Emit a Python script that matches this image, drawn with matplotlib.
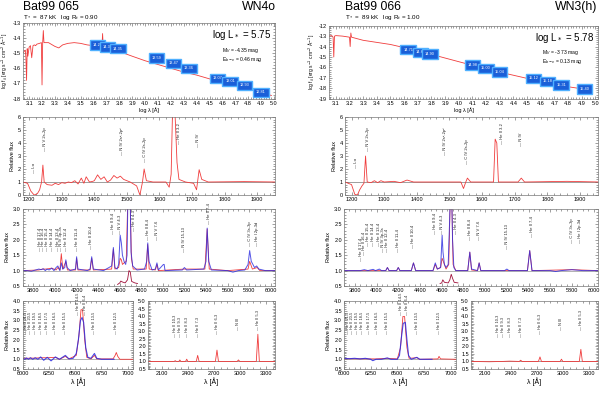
import numpy as np
import matplotlib.pyplot as plt

# ---------------------------------------- data ----------------------------------------

stars = ["Bat99 065", "Bat99 066"]
sptypes = ["WN4o", "WN3(h)"]
params = ["T$_*$ =  87 kK   log R$_t$ = 0.90", "T$_*$ =  89 kK   log R$_t$ = 1.00"]
lum_text = ["log L$_*$ = 5.75", "log L$_*$ = 5.78"]
mv_text = ["M$_V$ = -4.35 mag", "M$_V$ = -3.73 mag"]
ebv_text = ["E$_{b-v}$ = 0.46 mag", "E$_{b-v}$ = 0.13 mag"]

# SED model (log lambda, log f)
sed1_model = [(3.05, -15.0), (3.06, -14.9), (3.07, -14.8), (3.075, -15.3), (3.08, -16.8), (3.085, -14.7),
              (3.09, -15.2), (3.10, -14.6), (3.11, -14.5), (3.12, -15.3), (3.13, -14.5), (3.14, -14.45),
              (3.15, -14.5), (3.16, -14.4), (3.18, -14.35), (3.195, -14.3), (3.2, -17.1), (3.205, -14.3),
              (3.21, -13.5), (3.215, -14.3), (3.25, -14.3), (3.3, -14.55), (3.33, -14.65), (3.36, -14.45),
              (3.4, -14.35), (3.45, -14.3), (3.5, -14.35), (3.55, -14.45), (3.6, -14.5), (3.65, -14.55),
              (3.665, -14.6), (3.67, -13.7), (3.675, -14.6), (3.7, -14.65), (3.74, -14.72), (3.745, -14.35),
              (3.75, -14.75), (3.8, -14.9), (3.805, -14.5), (3.81, -14.92), (3.9, -15.2), (4.0, -15.5),
              (4.1, -15.75), (4.2, -16.0), (4.3, -16.25), (4.4, -16.45), (4.5, -16.7), (4.6, -16.9),
              (4.7, -17.1), (4.8, -17.35), (4.9, -17.6), (4.98, -17.8)]
sed2_model = [(3.05, -13.0), (3.07, -12.95), (3.08, -13.1), (3.085, -15.0), (3.09, -13.0), (3.1, -12.95),
              (3.15, -13.0), (3.2, -13.1), (3.205, -14.0), (3.21, -12.7), (3.215, -13.1), (3.3, -13.4),
              (3.4, -13.6), (3.5, -13.8), (3.6, -14.1), (3.7, -14.4), (3.8, -14.75), (3.9, -15.1),
              (4.0, -15.45), (4.1, -15.8), (4.2, -16.15), (4.3, -16.45), (4.4, -16.75), (4.5, -17.05),
              (4.6, -17.35), (4.7, -17.6), (4.8, -17.85), (4.9, -18.05), (4.98, -18.2)]
sed2_obs = [(3.6, -14.2), (3.63, -14.25), (3.66, -14.3), (3.67, -13.9), (3.675, -14.35), (3.7, -14.45),
            (3.74, -14.55), (3.78, -14.65), (3.8, -14.7), (3.81, -14.45), (3.82, -14.75)]

# photometry boxes (log lambda, log f, label)
phot1 = [(3.63, -14.45, "14.23"), (3.71, -14.6, "14.37"), (3.79, -14.7, "14.35"), (4.09, -15.33, "13.59"),
         (4.22, -15.67, "13.47"), (4.34, -16.0, "13.36"), (4.56, -16.67, "13.07"), (4.66, -16.87, "13.01"),
         (4.77, -17.13, "12.93"), (4.9, -17.6, "12.81")]
phot2 = [(3.63, -14.3, "14.71"), (3.72, -14.55, "14.83"), (3.79, -14.7, "14.90"), (4.1, -15.75, "14.98"),
         (4.2, -16.1, "15.00"), (4.3, -16.45, "15.04"), (4.55, -17.05, "15.12"), (4.65, -17.35, "15.18"),
         (4.75, -17.7, "15.31"), (4.92, -18.05, "15.40")]

# UV normalized model (lambda, flux)
uv1_model = [(1180, 1.0), (1195, 0.9), (1205, 0.3), (1215, 0.0), (1225, 0.1), (1232, 0.4), (1238, 1.0),
             (1242, 2.3), (1246, 1.0), (1255, 0.8), (1270, 0.75), (1280, 0.9), (1290, 0.8), (1300, 0.95),
             (1310, 0.9), (1320, 1.0), (1330, 0.95), (1340, 1.1), (1350, 0.85), (1360, 1.3), (1368, 0.9),
             (1375, 1.4), (1385, 1.0), (1395, 1.05), (1400, 1.1), (1410, 1.55), (1420, 1.2), (1430, 1.4),
             (1440, 1.0), (1450, 1.15), (1460, 1.5), (1470, 1.3), (1480, 1.45), (1490, 1.2), (1510, 1.0),
             (1530, 0.7), (1540, 0.0), (1548, 1.0), (1553, 2.0), (1560, 1.1), (1580, 1.0), (1620, 1.0),
             (1630, 0.6), (1636, 1.6), (1640, 6.2), (1648, 6.2), (1654, 2.5), (1660, 1.2), (1680, 1.0),
             (1705, 0.9), (1714, 0.4), (1722, 1.95), (1730, 1.2), (1750, 1.0), (1860, 1.03), (1960, 1.0)]
uv2_model = [(1180, 1.0), (1200, 0.8), (1210, 0.05), (1218, 0.0), (1225, 0.4), (1232, 0.7), (1238, 0.9),
             (1243, 3.0), (1248, 1.0), (1260, 0.95), (1270, 1.1), (1280, 0.95), (1290, 1.1), (1300, 1.0),
             (1330, 1.05), (1350, 0.95), (1370, 1.15), (1390, 1.0), (1535, 1.0), (1543, 0.5), (1550, 1.0),
             (1555, 1.3), (1565, 1.0), (1635, 1.0), (1640, 4.3), (1645, 4.0), (1650, 1.0), (1710, 1.0),
             (1720, 1.3), (1730, 1.0), (1860, 1.05), (1960, 1.0)]

# optical normalized spectra (lambda, flux): observation and model
opt1_obs = [(3700, 1.0), (3740, 1.0), (3780, 0.98), (3820, 1.02), (3850, 1.05), (3870, 1.03), (3890, 1.06),
            (3910, 1.0), (3925, 1.05), (3945, 1.02), (3970, 1.08), (3990, 1.0), (4010, 1.1), (4026, 1.15),
            (4045, 1.0), (4058, 1.25), (4072, 1.05), (4090, 1.1), (4100, 1.35), (4112, 1.1), (4140, 1.0),
            (4190, 1.05), (4200, 1.45), (4212, 1.05), (4300, 1.0), (4325, 1.05), (4340, 1.45), (4355, 1.05),
            (4450, 1.0), (4525, 1.15), (4541, 1.75), (4555, 1.1), (4575, 1.05), (4590, 1.2), (4604, 2.15),
            (4615, 1.9), (4625, 1.5), (4640, 1.3), (4655, 1.2), (4668, 1.5), (4676, 3.5), (4696, 3.5),
            (4705, 1.6), (4720, 1.15), (4760, 1.02), (4830, 1.05), (4850, 1.3), (4860, 1.9), (4872, 1.3),
            (4900, 1.02), (4930, 1.05), (4945, 1.25), (4958, 1.02), (5005, 1.2), (5012, 1.2), (5020, 1.0),
            (5180, 1.02), (5200, 1.1), (5220, 1.02), (5380, 1.05), (5400, 1.3), (5411, 2.38), (5425, 1.3),
            (5450, 1.02), (5600, 1.0), (5650, 0.95), (5700, 1.0), (5760, 1.02), (5790, 1.2), (5805, 1.65),
            (5820, 1.3), (5850, 1.1), (5870, 1.15), (5890, 1.05), (5950, 1.0), (6040, 1.0)]
opt1_model = [(3700, 1.0), (3850, 1.02), (3887, 1.05), (3923, 1.05), (3968, 1.08), (4010, 1.02), (4026, 1.1),
              (4045, 1.02), (4058, 1.55), (4072, 1.05), (4100, 1.3), (4115, 1.02), (4190, 1.02), (4200, 1.4),
              (4212, 1.02), (4325, 1.02), (4340, 1.4), (4355, 1.02), (4525, 1.05), (4541, 1.7), (4555, 1.05),
              (4590, 1.1), (4604, 1.4), (4615, 1.35), (4625, 1.2), (4640, 1.25), (4660, 1.3), (4676, 3.5),
              (4696, 3.5), (4708, 1.4), (4725, 1.05), (4845, 1.05), (4859, 1.85), (4873, 1.05), (4930, 1.02),
              (4945, 1.2), (4958, 1.0), (5200, 1.05), (5390, 1.05), (5411, 2.35), (5430, 1.05), (5600, 1.0),
              (5790, 1.05), (5805, 1.3), (5830, 1.05), (5875, 1.1), (5900, 1.0), (6040, 1.0)]
opt1_inset = [(4580, 0.55), (4600, 0.6), (4610, 0.66), (4625, 0.63), (4650, 0.6), (4672, 0.7), (4686, 1.0),
              (4698, 0.95), (4710, 0.65), (4740, 0.6), (4765, 0.58)]
opt2_obs = [(3700, 1.0), (3800, 1.0), (3850, 1.0), (3887, 1.03), (3920, 1.0), (3968, 1.04), (3990, 1.0),
            (4026, 1.05), (4045, 1.0), (4085, 1.0), (4100, 1.1), (4115, 1.0), (4185, 1.0), (4200, 1.1),
            (4215, 1.0), (4320, 1.0), (4340, 1.25), (4360, 1.0), (4520, 1.0), (4541, 1.25), (4560, 1.05),
            (4590, 1.1), (4604, 2.15), (4612, 1.6), (4625, 1.2), (4640, 1.1), (4660, 1.2), (4672, 2.5),
            (4680, 3.5), (4692, 3.5), (4700, 2.0), (4712, 1.1), (4730, 1.0), (4840, 1.0), (4859, 1.6),
            (4875, 1.05), (4930, 1.0), (4945, 1.25), (4960, 1.0), (5180, 1.0), (5200, 1.05), (5220, 1.0),
            (5390, 1.0), (5411, 1.65), (5432, 1.0), (5600, 1.0), (5650, 0.97), (5700, 1.0), (5800, 1.03),
            (5900, 1.0), (6040, 1.0)]
opt2_model = [(3700, 1.0), (4085, 1.0), (4100, 1.1), (4115, 1.0), (4185, 1.0), (4200, 1.1), (4215, 1.0),
              (4320, 1.0), (4340, 1.25), (4360, 1.0), (4520, 1.0), (4541, 1.2), (4560, 1.05), (4590, 1.1),
              (4604, 1.4), (4625, 1.2), (4640, 1.05), (4665, 1.2), (4680, 3.5), (4692, 3.5), (4705, 1.2),
              (4730, 1.0), (4840, 1.0), (4859, 1.6), (4875, 1.02), (4930, 1.0), (4945, 1.25), (4960, 1.0),
              (5390, 1.0), (5411, 1.65), (5432, 1.0), (5800, 1.03), (6040, 1.0)]
opt2_inset = [(4585, 0.58), (4600, 0.6), (4610, 0.7), (4625, 0.62), (4660, 0.6), (4675, 0.7), (4688, 0.88),
              (4700, 0.75), (4715, 0.62), (4750, 0.6)]

# H-alpha region (lambda, flux)
ha1_obs = [(6000, 1.05), (6020, 1.0), (6036, 1.07), (6055, 1.0), (6074, 1.08), (6095, 1.0), (6119, 1.08),
           (6145, 1.0), (6171, 1.12), (6200, 0.95), (6234, 1.1), (6270, 0.92), (6311, 1.12), (6350, 1.0),
           (6406, 1.2), (6440, 1.02), (6480, 1.05), (6510, 1.3), (6530, 2.0), (6550, 3.0), (6565, 3.15),
           (6580, 2.9), (6600, 1.6), (6620, 1.1), (6650, 1.05), (6683, 1.3), (6705, 1.05), (6750, 1.0),
           (6800, 1.0), (6870, 1.0)]
ha1_model = [(6000, 1.05), (6036, 1.05), (6074, 1.06), (6119, 1.06), (6171, 1.08), (6234, 1.08), (6311, 1.1),
             (6350, 1.0), (6406, 1.15), (6440, 1.02), (6510, 1.2), (6535, 2.2), (6555, 3.55), (6570, 3.55),
             (6590, 2.0), (6610, 1.1), (6650, 1.02), (6683, 1.2), (6705, 1.02), (6860, 1.02), (6880, 1.2),
             (6891, 1.35), (6905, 1.15), (6925, 1.0), (7050, 1.0)]
ha2_obs = [(6000, 1.05), (6050, 1.03), (6100, 1.05), (6150, 1.02), (6200, 1.05), (6250, 1.0), (6270, 0.93),
           (6300, 1.0), (6350, 1.0), (6406, 1.07), (6440, 1.0), (6500, 1.0), (6520, 1.2), (6540, 2.2),
           (6555, 2.85), (6575, 2.9), (6590, 2.0), (6605, 1.2), (6630, 1.0), (6683, 1.1), (6710, 1.0),
           (6825, 1.0)]
ha2_model = [(6000, 1.03), (6300, 1.02), (6406, 1.05), (6500, 1.02), (6530, 1.6), (6552, 3.2), (6568, 3.2),
             (6590, 1.6), (6610, 1.05), (6683, 1.08), (6710, 1.0), (6880, 1.02), (6891, 1.15), (6905, 1.02),
             (7050, 1.0)]

# near-UV He II series (lambda, flux)
ir1_model = [(1940, 1.0), (2150, 1.0), (2240, 1.0), (2253, 1.05), (2266, 1.0), (2295, 1.0), (2306, 1.1),
             (2318, 1.0), (2372, 1.0), (2385, 1.15), (2398, 1.0), (2495, 1.0), (2511, 1.4), (2527, 1.0),
             (2715, 1.0), (2733, 1.75), (2750, 1.0), (2965, 1.0), (2980, 1.1), (2995, 1.0), (3185, 1.0),
             (3203, 2.8), (3220, 1.0), (3400, 1.0)]
ir2_model = [(1940, 1.0), (2150, 0.98), (2300, 1.0), (2385, 1.02), (2495, 1.0), (2511, 1.08), (2527, 1.0),
             (2715, 1.0), (2733, 1.3), (2750, 1.0), (2965, 1.0), (2980, 1.15), (2995, 1.0), (3185, 1.0),
             (3203, 1.8), (3220, 1.0), (3400, 1.0)]

# line identifications (lambda, y of label foot, text)
uv_lines1 = [(1215, 1.7, "Lα"), (1250, 3.4, "N V 2s-2p"), (1486, 3.1, "N IV 2s²-2p²"),
             (1555, 2.5, "C IV 2s-2p"), (1660, 3.9, "He II 3-2"), (1718, 3.7, "N IV")]
uv_lines2 = [(1215, 2.1, "Lα"), (1250, 3.4, "N V 2s-2p"), (1486, 3.1, "N IV 2s²-2p²"),
             (1555, 2.4, "C IV 2s-2p"), (1660, 3.9, "He II 3-2"), (1718, 3.8, "N IV")]
opt_lines1 = [(3858, 1.65, "He II 17-4"), (3887, 1.65, "He II 16-4"), (3923, 1.65, "He II 15-4"),
              (3968, 1.65, "He II 14-4"), (4025, 1.65, "He II 13-4"), (4058, 1.65, "N IV 3p-3s"),
              (4100, 1.65, "He II 12-4"), (4199, 1.65, "He II 11-4"), (4338, 1.7, "He II 10-4"),
              (4541, 2.2, "He II 9-4"), (4604, 2.2, "N V 4-3"), (4730, 2.3, "He II 4-3"),
              (4859, 2.0, "He II 8-4"), (4945, 2.0, "N V 7-6"), (5200, 1.6, "N IV 15-13"),
              (5430, 2.5, "He II 7-4"), (5805, 1.8, "C IV 3s-3p"), (5876, 1.8, "He I 2p-3d")]
opt_lines2 = [(3858, 1.3, "He II 17-4"), (3887, 1.5, "He II 16-4"), (3923, 1.8, "He II 15-4"),
              (3968, 1.8, "He II 14-4"), (4025, 1.8, "He II 13-4"), (4058, 1.6, "N IV 3p-3s"),
              (4100, 1.6, "He II 12-4"), (4199, 1.6, "He II 11-4"), (4338, 1.75, "He II 10-4"),
              (4541, 2.2, "He II 9-4"), (4604, 2.2, "N V 4-3"), (4730, 2.2, "He II 4-3"),
              (4859, 2.0, "He II 8-4"), (4945, 2.0, "N V 7-6"), (5200, 1.7, "N IV 15-13"),
              (5430, 2.1, "He II 7-4"), (5805, 1.9, "C IV 3s-3p"), (5876, 1.9, "He I 2p-3d")]
ha_lines = [(6036, 2.3, "He II 21-5"), (6074, 2.3, "He II 20-5"), (6119, 2.3, "He II 19-5"),
            (6171, 2.3, "He II 18-5"), (6234, 2.3, "He II 17-5"), (6311, 2.3, "He II 16-5"),
            (6406, 2.3, "He II 15-5"), (6530, 3.3, "He II 14-5"), (6590, 3.3, "He II 6-4"),
            (6683, 2.3, "He II 13-5"), (6891, 2.3, "He II 12-5")]
ir_lines = [(2253, 2.6, "He II 10-3"), (2306, 2.6, "He II 9-3"), (2385, 2.6, "He II 8-3"),
            (2511, 2.6, "He II 7-3"), (2733, 2.8, "He II 6-3"), (2980, 3.1, "N III"), (3203, 3.1, "He II 5-3")]

# ---------------------------------------- drawing ----------------------------------------

plt.rcParams['font.family'] = ['Liberation Sans', 'DejaVu Sans']
W, H = 600, 394
fig = plt.figure(figsize=(6.0, 3.94), dpi=100)

RED = '#f03c3c'
BLUE = '#2a2ae0'


def rect(x0, x1, y0, y1):
    return [x0 / W, 1 - y1 / H, (x1 - x0) / W, (y1 - y0) / H]


def panel(r, xlim, ylim, xticks, yticks, yfmt="%.1f"):
    ax = fig.add_axes(r)
    ax.set_xlim(*xlim)
    ax.set_ylim(*ylim)
    ax.set_xticks(xticks)
    ax.set_yticks(yticks)
    ax.set_yticklabels([yfmt % v for v in yticks])
    ax.minorticks_on()
    ax.tick_params(which='both', direction='in', top=True, right=True, labelsize=4,
                   width=0.4, color='#555555', pad=1.5)
    ax.tick_params(which='major', length=2.2)
    ax.tick_params(which='minor', length=1.1)
    for s in ax.spines.values():
        s.set_linewidth(0.5)
        s.set_color('#777777')
    return ax


def curve(ax, pts, color, lw=0.6, **kw):
    xs, ys = zip(*pts)
    ax.plot(xs, ys, color=color, lw=lw, **kw)


def idents(ax, lines, fs=3.0):
    for x, y, t in lines:
        ax.text(x, y, "— " + t, rotation=90, fontsize=fs, ha='center', va='bottom', color='#222222')


cols = [
    dict(sed=rect(22.7, 275, 23, 98.5), uvr=rect(22.7, 275, 117, 195), opt=rect(22.7, 275, 209, 286),
         ha=rect(22.7, 133, 301, 369), ir=rect(148, 275, 301, 369), tx=22.7, rx=276, sedx=5.008,
         sedlim=(-18, -13), sedmodel=sed1_model, sedobs=None, phot=phot1, uvm=uv1_model, uvl=uv_lines1,
         opt_obs=opt1_obs, opt_mod=opt1_model, inset=opt1_inset, optl=opt_lines1,
         ha_obs=ha1_obs, ha_mod=ha1_model, irm=ir1_model),
    dict(sed=rect(329, 598, 25.7, 98.7), uvr=rect(345, 598, 117, 195), opt=rect(344, 598, 209, 286),
         ha=rect(344, 456, 301, 369), ir=rect(471, 598, 301, 369), tx=345, rx=597, sedx=5.02,
         sedlim=(-19, -12), sedmodel=sed2_model, sedobs=sed2_obs, phot=phot2, uvm=uv2_model, uvl=uv_lines2,
         opt_obs=opt2_obs, opt_mod=opt2_model, inset=opt2_inset, optl=opt_lines2,
         ha_obs=ha2_obs, ha_mod=ha2_model, irm=ir2_model),
]

for i, c in enumerate(cols):
    # header
    fig.text(c['tx'] / W, 1 - 10 / H, stars[i], fontsize=8.8, ha='left', va='baseline')
    fig.text(c['rx'] / W, 1 - 10 / H, sptypes[i], fontsize=8.8, ha='right', va='baseline')
    fig.text(c['tx'] / W, 1 - 19 / H, params[i], fontsize=4.5, ha='left', va='baseline')

    # SED
    lo, hi = c['sedlim']
    ax = panel(c['sed'], (3.05, c['sedx']), (lo, hi), np.arange(3.1, 5.01, 0.1),
               np.arange(lo, hi + 0.5, 1), "%d")
    ax.set_xticklabels(["%.1f" % v for v in np.arange(3.1, 5.01, 0.1)])
    curve(ax, c['sedmodel'], RED, lw=0.6)
    if c['sedobs'] is not None:
        curve(ax, c['sedobs'], '#1020c0', lw=0.8)
    for x, y, t in c['phot']:
        ax.text(x, y, t, fontsize=2.8, color='white', ha='center', va='center',
                bbox=dict(boxstyle='square,pad=0.7', facecolor='#1a5fd8', edgecolor='#4fb0ff', lw=1.0))
    ax.text(0.985, 0.93, lum_text[i], transform=ax.transAxes, fontsize=7, ha='right', va='top')
    ax.text(0.79, 0.70, mv_text[i], transform=ax.transAxes, fontsize=3.6, ha='left', va='top')
    ax.text(0.79, 0.57, ebv_text[i], transform=ax.transAxes, fontsize=3.6, ha='left', va='top')
    ax.set_xlabel("log λ [Å]", fontsize=4, labelpad=1)
    ax.set_ylabel("log f$_λ$ [erg s$^{-1}$ cm$^{-2}$ Å$^{-1}$]", fontsize=3.5, labelpad=1.5)

    # UV
    ax = panel(c['uvr'], (1180, 1955), (0, 6), np.arange(1200, 1901, 100), np.arange(0, 7, 1), "%d")
    ax.axhline(1.0, color='#555555', lw=0.4)
    curve(ax, c['uvm'], RED)
    idents(ax, c['uvl'])
    ax.set_ylabel("Relative flux", fontsize=4, labelpad=2)

    # optical
    ax = panel(c['opt'], (3700, 6040), (0.5, 3.0), np.arange(3800, 6001, 200), np.arange(0.5, 3.01, 0.5))
    ax.axhline(1.0, color='#777777', lw=0.4)
    curve(ax, c['opt_mod'], RED, lw=0.6)
    curve(ax, c['opt_obs'], BLUE, lw=0.7, alpha=0.8)
    curve(ax, c['inset'], '#a0103a', lw=0.6)
    idents(ax, c['optl'])
    ax.set_ylabel("Relative flux", fontsize=4, labelpad=2)

    # H-alpha region
    ax = panel(c['ha'], (6000, 7050), (0.5, 4.0), [6000, 6250, 6500, 6750, 7000], np.arange(0.5, 4.01, 0.5))
    ax.axhline(1.0, color='#777777', lw=0.4)
    curve(ax, c['ha_mod'], RED, lw=0.6)
    curve(ax, c['ha_obs'], BLUE, lw=0.8, alpha=0.85)
    idents(ax, ha_lines, fs=2.8)
    ax.set_xlabel("λ [Å]", fontsize=5, labelpad=1)
    ax.set_ylabel("Relative flux", fontsize=4, labelpad=2)

    # He II 3-n series
    ax = panel(c['ir'], (1940, 3400), (0.5, 5.0), [2100, 2400, 2700, 3000, 3300], np.arange(0.5, 5.01, 0.5))
    ax.axhline(1.0, color='#555555', lw=0.4)
    curve(ax, c['irm'], RED)
    idents(ax, ir_lines, fs=2.8)
    ax.set_xlabel("λ [Å]", fontsize=5, labelpad=1)

fig.savefig("out.png", dpi=100)
